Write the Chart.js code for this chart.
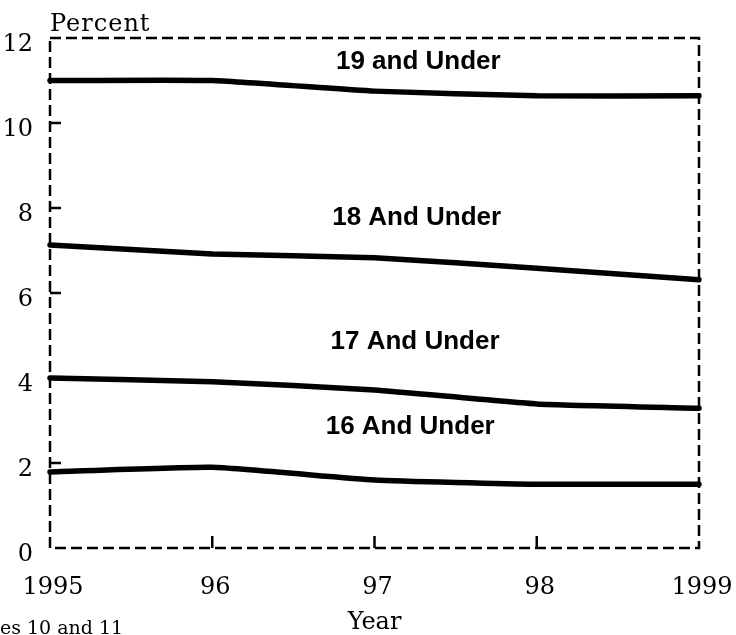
<!DOCTYPE html>
<html>
<head>
<meta charset="utf-8">
<script src="https://cdn.jsdelivr.net/npm/chart.js@4/dist/chart.umd.min.js"></script>
<style>
  html, body { margin: 0; padding: 0; background: #fff; }
  #wrap { width: 736px; height: 635px; position: relative; }
</style>
</head>
<body>
<div id="wrap"><canvas id="c" width="736" height="635"></canvas></div>
<script>
// ---- data ----
const years = ['1995', '96', '97', '98', '1999'];
const under19 = [11.0, 11.0, 10.75, 10.64, 10.64];
const under18 = [7.13, 6.92, 6.83, 6.58, 6.31];
const under17 = [4.0, 3.91, 3.72, 3.39, 3.29];
const under16 = [1.79, 1.9, 1.6, 1.5, 1.5];
const seriesNames = ['19 and Under', '18 And Under', '17 And Under', '16 And Under'];
const yTicks = [0, 2, 4, 6, 8, 10, 12];
// label anchors in data space (category index, percent)
const labelIdx = [2.27, 2.26, 2.25, 2.22];
const labelVal = [11.43, 7.77, 4.85, 2.85];

const serif = '"DejaVu Serif", serif';
const sans = '"Liberation Sans", Arial, sans-serif';

const mkSet = (name, data) => ({
  label: name, data,
  borderColor: '#000', borderWidth: 5.5,
  pointRadius: 0, tension: 0.15,
  borderCapStyle: 'round', borderJoinStyle: 'round',
  fill: false, clip: false
});

const decor = {
  id: 'decor',
  beforeDatasetsDraw(chart) {
    const { ctx, chartArea: a, scales: { x, y } } = chart;
    ctx.save();
    ctx.strokeStyle = '#000';
    ctx.lineWidth = 2.5;
    ctx.setLineDash([11, 5]);
    ctx.strokeRect(a.left, a.top, a.right - a.left, a.bottom - a.top);
    ctx.setLineDash([]);
    // inward tick marks
    ctx.beginPath();
    yTicks.slice(1, -1).forEach(v => {
      const py = y.getPixelForValue(v);
      ctx.moveTo(a.left, py); ctx.lineTo(a.left + 11, py);
    });
    for (let i = 1; i < years.length - 1; i++) {
      const px = x.getPixelForValue(i);
      ctx.moveTo(px, a.bottom); ctx.lineTo(px, a.bottom - 12);
    }
    ctx.stroke();
    ctx.restore();
  },
  afterDraw(chart) {
    const { ctx, chartArea: a, scales: { x, y } } = chart;
    ctx.save();
    ctx.fillStyle = '#000';
    // series labels
    ctx.font = 'bold 26px ' + sans;
    ctx.textAlign = 'center';
    ctx.textBaseline = 'middle';
    seriesNames.forEach((n, i) => {
      ctx.fillText(n, x.getPixelForValue(labelIdx[i]), y.getPixelForValue(labelVal[i]));
    });
    // axis titles
    ctx.font = '24px ' + serif;
    ctx.textAlign = 'left';
    ctx.textBaseline = 'alphabetic';
    ctx.letterSpacing = '1px';
    ctx.fillText('Percent', a.left, 31);
    ctx.letterSpacing = '0px';
    ctx.font = '24px ' + serif;
    ctx.textAlign = 'center';
    ctx.fillText('Year', x.getPixelForValue(2), 629);
    ctx.font = '19px ' + serif;
    ctx.textAlign = 'left';
    ctx.fillText('es 10 and 11', 0, 634);
    ctx.restore();
  }
};

new Chart(document.getElementById('c'), {
  type: 'line',
  data: {
    labels: years,
    datasets: [
      mkSet(seriesNames[0], under19),
      mkSet(seriesNames[1], under18),
      mkSet(seriesNames[2], under17),
      mkSet(seriesNames[3], under16)
    ]
  },
  options: {
    responsive: false,
    animation: false,
    layout: { padding: { top: 38, right: 37, left: 0, bottom: 0 } },
    plugins: { legend: { display: false }, tooltip: { enabled: false }, title: { display: false } },
    scales: {
      x: {
        type: 'category',
        offset: false,
        grid: { display: false },
        border: { display: false },
        ticks: {
          color: '#000', font: { family: serif, size: 24 },
          padding: 17, labelOffset: 3, maxRotation: 0, autoSkip: false
        },
        afterFit(s) { s.height = 87; s.paddingLeft = 0; s.paddingRight = 0; }
      },
      y: {
        min: 0, max: 12,
        grid: { display: false },
        border: { display: false },
        afterBuildTicks(s) { s.ticks = yTicks.map(v => ({ value: v })); },
        ticks: {
          color: '#000', font: { family: serif, size: 24 },
          padding: 9, labelOffset: 7
        },
        afterFit(s) { s.width = 50; s.paddingTop = 0; s.paddingBottom = 0; }
      }
    }
  },
  plugins: [decor]
});
</script>
</body>
</html>
